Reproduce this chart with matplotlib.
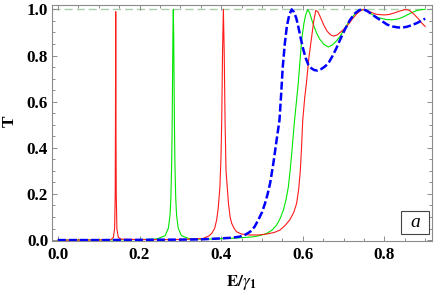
import matplotlib
matplotlib.use("Agg")
import matplotlib.pyplot as plt
from matplotlib.patches import Rectangle
from matplotlib.ticker import MultipleLocator

# red curve (thin)
red_E = [0.0, 0.10, 0.130, 0.136, 0.139, 0.1405, 0.141, 0.1417, 0.1424, 0.143, 0.1445, 0.148, 0.155,
         0.20, 0.28, 0.33, 0.356, 0.370, 0.377, 0.384, 0.389, 0.393, 0.397, 0.3995, 0.4015, 0.4035,
         0.4055, 0.4075, 0.4096, 0.412, 0.418, 0.422, 0.426, 0.432, 0.438, 0.450, 0.470, 0.490,
         0.511, 0.530, 0.544, 0.556, 0.568, 0.578, 0.585, 0.590, 0.594, 0.597, 0.600, 0.605, 0.609,
         0.615, 0.622, 0.627, 0.632, 0.637, 0.641, 0.646, 0.652, 0.660, 0.668, 0.676, 0.685, 0.695,
         0.708, 0.720, 0.732, 0.742, 0.749, 0.758, 0.768, 0.780, 0.790, 0.800, 0.812, 0.825, 0.838,
         0.848, 0.855, 0.862, 0.872, 0.882, 0.892, 0.900]
red_T = [0.0, 0.0005, 0.002, 0.012, 0.05, 0.2, 0.45, 0.99, 0.45, 0.2, 0.05, 0.012, 0.004,
         0.002, 0.002, 0.004, 0.007, 0.018, 0.029, 0.05, 0.087, 0.14, 0.23, 0.35, 0.52, 0.82,
         1.0, 0.82, 0.52, 0.30, 0.159, 0.10, 0.072, 0.05, 0.036, 0.026, 0.022, 0.022,
         0.026, 0.033, 0.043, 0.062, 0.087, 0.12, 0.159, 0.22, 0.30, 0.40, 0.52, 0.62, 0.68,
         0.79, 0.883, 0.95, 0.996, 0.99, 0.975, 0.955, 0.93, 0.905, 0.89, 0.884, 0.89, 0.905,
         0.926, 0.955, 0.98, 0.995, 1.0, 0.995, 0.987, 0.979, 0.977, 0.976, 0.978, 0.985, 0.993,
         0.998, 0.999, 0.995, 0.98, 0.962, 0.94, 0.926]

# green curve (thin)
green_E = [0.0, 0.15, 0.22, 0.2428, 0.2628, 0.2708, 0.2748, 0.2768, 0.2788, 0.2798, 0.2808, 0.2818,
           0.2828, 0.2838, 0.2848, 0.2858, 0.2868, 0.2888, 0.2908, 0.2948, 0.3028, 0.3228, 0.36,
           0.40, 0.43, 0.455, 0.479, 0.496, 0.512, 0.525, 0.536, 0.545, 0.5525, 0.559, 0.5647,
           0.569, 0.573, 0.5765, 0.580, 0.5845, 0.589, 0.593, 0.5975, 0.603, 0.607, 0.612, 0.617,
           0.622, 0.628, 0.634, 0.642, 0.652, 0.663, 0.672, 0.682, 0.6914, 0.703, 0.716, 0.728,
           0.740, 0.7485, 0.758, 0.770, 0.780, 0.790, 0.805, 0.819, 0.832, 0.845, 0.857, 0.868,
           0.880, 0.890, 0.900]
green_T = [0.0, 0.001, 0.003, 0.005, 0.019, 0.052, 0.109, 0.179, 0.33, 0.466, 0.66, 0.887,
           1.0, 0.887, 0.66, 0.466, 0.33, 0.179, 0.109, 0.052, 0.019, 0.005, 0.004,
           0.006, 0.008, 0.011, 0.014, 0.020, 0.029, 0.044, 0.065, 0.095, 0.13, 0.175, 0.23,
           0.30, 0.376, 0.45, 0.52, 0.60, 0.68, 0.77, 0.87, 0.94, 0.975, 0.999, 0.985,
           0.955, 0.925, 0.897, 0.87, 0.848, 0.837, 0.845, 0.862, 0.883, 0.918, 0.955, 0.98,
           0.996, 1.0, 0.993, 0.978, 0.968, 0.962, 0.956, 0.955, 0.958, 0.966, 0.977, 0.987,
           0.995, 0.999, 1.0]

# blue curve (thick dashed)
blue_E = [0.0, 0.10, 0.20, 0.30, 0.348, 0.397, 0.425, 0.446, 0.460, 0.471, 0.482, 0.491, 0.500,
          0.5076, 0.514, 0.520, 0.528, 0.536, 0.543, 0.547, 0.551, 0.556, 0.561, 0.567, 0.573,
          0.578, 0.584, 0.589, 0.595, 0.6015, 0.607, 0.6137, 0.621, 0.628, 0.636, 0.645, 0.654,
          0.663, 0.672, 0.682, 0.6914, 0.703, 0.716, 0.728, 0.739, 0.7485, 0.758, 0.770, 0.782,
          0.795, 0.807, 0.820, 0.832, 0.844, 0.856, 0.868, 0.880, 0.890, 0.900]
blue_T = [0.0, 0.0, 0.001, 0.002, 0.003, 0.007, 0.010, 0.015, 0.024, 0.036, 0.058, 0.087, 0.12,
          0.159, 0.20, 0.246, 0.333, 0.434, 0.52, 0.63, 0.75, 0.85, 0.926, 0.977, 1.0,
          0.99, 0.963, 0.926, 0.875, 0.825, 0.79, 0.76, 0.745, 0.737, 0.735, 0.741, 0.752,
          0.767, 0.795, 0.83, 0.868, 0.912, 0.955, 0.983, 0.997, 1.0, 0.993, 0.978, 0.963,
          0.948, 0.934, 0.926, 0.922, 0.921, 0.925, 0.932, 0.941, 0.95, 0.96]

x_ticks = [0.0, 0.2, 0.4, 0.6, 0.8]
y_ticks = [0.0, 0.2, 0.4, 0.6, 0.8, 1.0]

plt.rcParams['mathtext.fontset'] = 'stix'
serif = 'Liberation Serif'

fig = plt.figure(figsize=(4.34, 2.91), dpi=100)
ax = fig.add_axes([52.3 / 434, 50 / 291, 379.4 / 434, 236 / 291])

ax.axhline(1.0, color='#a9cfa9', lw=1.0, linestyle=(0, (5.8, 2.9)), zorder=1)
ax.plot(green_E, green_T, color='#00e600', lw=0.8, zorder=2)
ax.plot(red_E, red_T, color='#ff1a1a', lw=0.8, zorder=3)
ax.plot(blue_E, blue_T, color='#0000ff', lw=1.8, linestyle=(0, (3.2, 1.2)), zorder=4)

ax.set_xlim(-0.0137, 0.916)
ax.set_ylim(-0.004, 1.019)
ax.set_xticks(x_ticks)
ax.set_yticks(y_ticks)
ax.set_xticklabels([f"{v:.1f}" for v in x_ticks])
ax.set_yticklabels([f"{v:.1f}" for v in y_ticks])
ax.xaxis.set_minor_locator(MultipleLocator(0.05))
ax.yaxis.set_minor_locator(MultipleLocator(0.05))

for s in ax.spines.values():
    s.set_color('#8c8c8c')
    s.set_linewidth(0.8)
ax.tick_params(which='both', direction='in', top=True, right=True, color='#8c8c8c', width=0.7)
ax.tick_params(which='major', length=3.6)
ax.tick_params(which='minor', length=2.2)
ax.tick_params(axis='x', pad=4.5)
ax.tick_params(axis='y', pad=3)
for lab in ax.get_xticklabels() + ax.get_yticklabels():
    lab.set_fontfamily(serif)
    lab.set_fontweight('bold')
    lab.set_fontsize(12.3)

# boxed panel letter
ax.add_patch(Rectangle((0.919, 0.030), 0.073, 0.097, transform=ax.transAxes,
                       fill=True, fc='white', ec='#444444', lw=0.8, zorder=5))
ax.text(0.9555, 0.078, 'a', transform=ax.transAxes, ha='center', va='center',
        family=serif, style='italic', fontsize=14, zorder=6)

fig.text(9.5 / 434, 1 - 121 / 291, 'T', rotation=90, ha='center', va='center',
         family=serif, fontweight='bold', fontsize=12.3)
fig.text(241 / 434, 1 - 282 / 291, r'$\mathbf{E/}\gamma_{\mathbf{1}}$', ha='center', va='center',
         fontsize=12.3)

fig.savefig('out.png', dpi=100)
